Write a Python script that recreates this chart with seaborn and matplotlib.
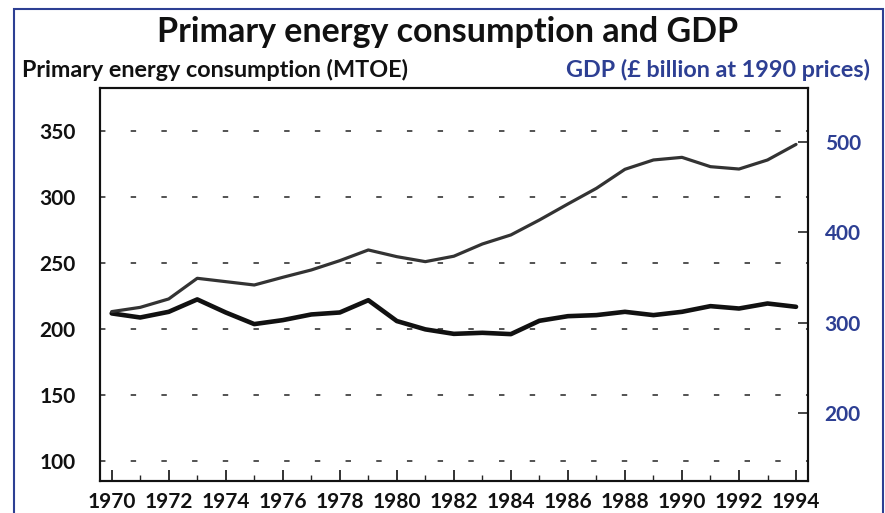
import matplotlib
matplotlib.use("Agg")
import matplotlib.pyplot as plt
import matplotlib.patches as mpatches
from matplotlib.ticker import MultipleLocator
import seaborn as sns
import pandas as pd

years = list(range(1970, 1995))
energy = [211.8, 208.7, 213.0, 222.4, 212.5, 203.7, 206.7, 211.0, 212.5, 221.8,
          206.0, 199.7, 196.3, 197.1, 196.1, 206.2, 209.7, 210.5, 213.0, 210.5,
          213.0, 217.3, 215.5, 219.3, 216.8]
gdp = [312.3, 317.0, 326.3, 349.1, 345.4, 341.7, 350.2, 358.3, 368.6, 380.4,
       373.0, 367.5, 373.5, 387.0, 397.0, 413.5, 431.2, 448.5, 469.5, 479.8,
       482.7, 472.4, 469.8, 479.8, 497.0]
left_ticks = [100, 150, 200, 250, 300, 350]
right_ticks = [200, 300, 400, 500]
x_labels = list(range(1970, 1995, 2))

title = "Primary energy consumption and GDP"
left_label = "Primary energy consumption (MTOE)"
right_label = "GDP (£ billion at 1990 prices)"

df = pd.DataFrame({"year": years, "energy": energy, "gdp": gdp})

sns.set_style("white")
plt.rcParams["font.family"] = ["Lato", "DejaVu Sans"]
plt.rcParams["font.weight"] = "bold"

BLUE = "#2d3f93"
fig = plt.figure(figsize=(8.85, 5.13), dpi=100)
fig.patch.set_facecolor("white")

# outer blue frame
fig.patches.append(mpatches.Rectangle((14 / 885, -0.1), (883 - 14) / 885, (513 - 9) / 513 + 0.1,
                                      transform=fig.transFigure, fill=False,
                                      edgecolor=BLUE, linewidth=1.5, zorder=0))

ax = fig.add_axes([100 / 885, 32 / 513, 708 / 885, 393 / 513])
ax2 = ax.twinx()

sns.lineplot(data=df, x="year", y="energy", ax=ax, color="#111111", linewidth=3.3)
sns.lineplot(data=df, x="year", y="gdp", ax=ax2, color="#333333", linewidth=2.3)

ax.set_xlim(1969.59, 1994.42)
ax.set_ylim(84.8, 382.6)
ax2.set_ylim(125.2, 559.3)

ax.set_yticks(left_ticks)
ax2.set_yticks(right_ticks)
ax.set_xticks(x_labels)
ax.xaxis.set_minor_locator(MultipleLocator(1))

ax.yaxis.grid(True, color="#444444", linestyle=(0, (3, 14)), linewidth=1.3)
ax.set_axisbelow(True)

for a in (ax, ax2):
    a.set_xlabel("")
    a.set_ylabel("")
    for s in a.spines.values():
        s.set_color("#111111")
        s.set_linewidth(1.5)

ax.tick_params(axis="x", which="major", direction="in", length=8, width=1.2,
               labelsize=15, pad=8, colors="#111111", bottom=True)
ax.tick_params(axis="x", which="minor", direction="in", length=4, width=1.0, bottom=True)
ax.tick_params(axis="y", left=False, labelsize=15, pad=14, labelcolor="#111111")
ax2.tick_params(axis="y", direction="in", length=7, width=1.2, right=True,
                labelsize=15, pad=12, labelcolor=BLUE)
for lab in ax.get_xticklabels() + ax.get_yticklabels() + ax2.get_yticklabels():
    lab.set_fontweight("bold")

fig.text(448 / 885, 1 - 32 / 513, title, ha="center", va="center",
         fontsize=24.5, fontweight="bold", color="#111111")
fig.text(22 / 885, 1 - 70 / 513, left_label, ha="left", va="center",
         fontsize=16.8, fontweight="bold", color="#111111")
fig.text(870 / 885, 1 - 70 / 513, right_label, ha="right", va="center",
         fontsize=16.8, fontweight="bold", color=BLUE)

fig.savefig("out.png", dpi=100, facecolor="white")
